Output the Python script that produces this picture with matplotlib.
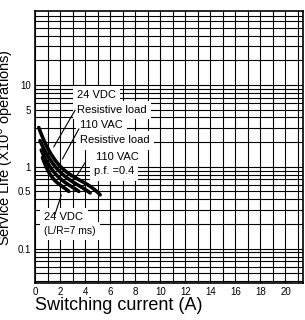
import numpy as np
import matplotlib
matplotlib.use("Agg")
import matplotlib.pyplot as plt

# ---- data ----
x_ticks = [0, 2, 4, 6, 8, 10, 12, 14, 16, 18, 20]
y_ticks = [0.1, 0.5, 1, 5, 10]
y_tick_labels = ["0.1", "0.5", "1", "5", "10"]

dc24_res_x = [0.3, 1.0, 2.0, 3.0, 4.0, 5.2]
dc24_res_y = [3.1, 1.6, 1.05, 0.8, 0.6, 0.46]

ac110_res_x = [0.4, 1.0, 2.0, 3.0, 4.4]
ac110_res_y = [2.1, 1.35, 0.88, 0.65, 0.48]

ac110_pf_x = [0.5, 1.0, 2.0, 3.5]
ac110_pf_y = [1.6, 1.12, 0.72, 0.5]

dc24_ind_x = [0.6, 1.0, 2.0, 2.7]
dc24_ind_y = [1.3, 0.92, 0.6, 0.5]

plt.rcParams['font.family'] = ['Liberation Sans', 'DejaVu Sans']

fig = plt.figure(figsize=(3.05, 3.2), dpi=100)
ax = fig.add_axes([35/305, 37/320, 268/305, 272/320])

ax.set_yscale('log')
ax.set_xlim(0, 21.4)
ax.set_ylim(0.038, 80)

# grid
for gx in range(0, 22):
    ax.axvline(gx, color='black', lw=0.8, zorder=1)
for dec in [0.01, 0.1, 1, 10]:
    for m in range(1, 10):
        v = dec * m
        if 0.038 < v < 80:
            ax.axhline(v, color='black', lw=0.8, zorder=1)

# curves
for cx, cy in [(dc24_res_x, dc24_res_y), (ac110_res_x, ac110_res_y),
               (ac110_pf_x, ac110_pf_y), (dc24_ind_x, dc24_ind_y)]:
    xs = np.array(cx); ys = np.array(cy)
    xx = np.linspace(xs[0], xs[-1], 60)
    p = np.polyfit(xs, np.log10(ys), min(3, len(xs) - 1))
    yy = 10 ** np.polyval(p, xx)
    ax.plot(xx, yy, color='black', lw=2.6, solid_capstyle='round', zorder=5)

box = dict(facecolor='white', edgecolor='none', pad=3)
fs = 8
ax.text(3.35, 7.5, "24 VDC", fontsize=fs, va='center', ha='left', bbox=box, zorder=3)
ax.text(3.35, 4.95, "Resistive load", fontsize=fs, va='center', ha='left', bbox=box, zorder=3)
ax.text(3.6, 3.2, "110 VAC", fontsize=fs, va='center', ha='left', bbox=box, zorder=3)
ax.text(3.6, 2.1, "Resistive load", fontsize=fs, va='center', ha='left', bbox=box, zorder=3)
ax.text(4.85, 1.33, "110 VAC", fontsize=fs, va='center', ha='left', bbox=box, zorder=3)
ax.text(4.7, 0.88, "p.f. =0.4", fontsize=fs, va='center', ha='left', bbox=box, zorder=3)
ax.text(0.75, 0.24, "24 VDC", fontsize=fs, va='center', ha='left', bbox=box, zorder=3)
ax.text(0.75, 0.163, "(L/R=7 ms)", fontsize=fs - 0.5, va='center', ha='left', bbox=box, zorder=3)

# leader lines
leaders = [((3.2, 4.9), (1.5, 1.75)),
           ((3.5, 2.9), (2.2, 1.25)),
           ((4.0, 1.12), (3.3, 0.76)),
           ((1.55, 0.25), (2.1, 0.45))]
for (x0, y0), (x1, y1) in leaders:
    ax.plot([x0, x1], [y0, y1], color='black', lw=0.8, zorder=4)

ax.set_xticks(x_ticks)
ax.set_xticklabels([str(t) for t in x_ticks], fontsize=7)
ax.yaxis.set_major_locator(matplotlib.ticker.FixedLocator(y_ticks))
ax.yaxis.set_minor_locator(matplotlib.ticker.NullLocator())
ax.set_yticklabels(y_tick_labels, fontsize=7)
ax.tick_params(length=0, pad=3)
for s in ax.spines.values():
    s.set_linewidth(1.2)
    s.set_color('black')

fig.text(35/305, 1 - 305/320, "Switching current (A)", fontsize=13,
         ha='left', va='center')
fig.text(15.5/305, 1 - 148/320, "Service Life (X10$^6$ operations)", fontsize=10.5,
         rotation=90, ha='right', va='center')

fig.savefig("out.png", dpi=100)
